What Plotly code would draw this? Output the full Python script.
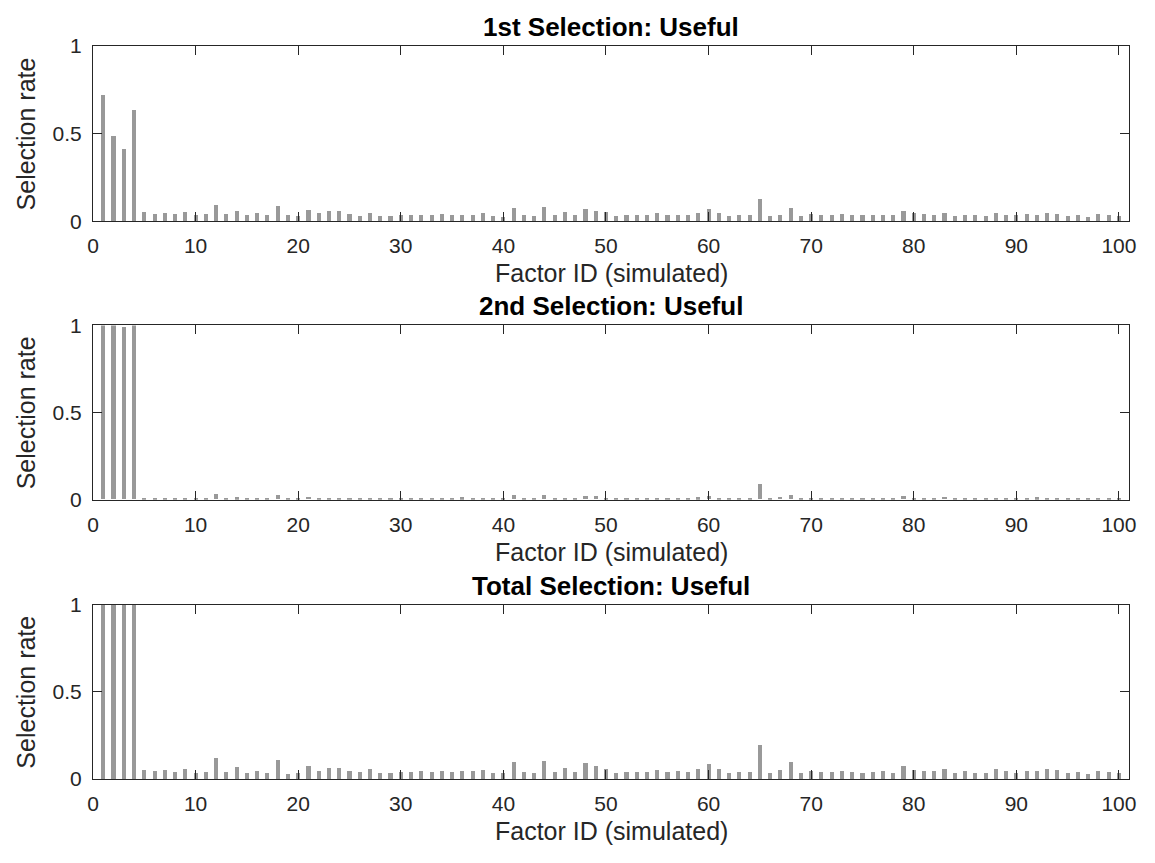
import plotly.graph_objects as go

factor_ids = list(range(1, 101))

first_sel = [
    0.718, 0.489, 0.411, 0.637, 0.050, 0.043, 0.048, 0.039, 0.054, 0.035,
    0.041, 0.094, 0.041, 0.059, 0.035, 0.046, 0.035, 0.089, 0.033, 0.030,
    0.065, 0.046, 0.059, 0.059, 0.042, 0.031, 0.047, 0.027, 0.031, 0.035,
    0.036, 0.038, 0.033, 0.040, 0.033, 0.036, 0.038, 0.044, 0.029, 0.026,
    0.075, 0.035, 0.027, 0.080, 0.035, 0.053, 0.035, 0.071, 0.056, 0.050,
    0.031, 0.038, 0.038, 0.035, 0.047, 0.035, 0.038, 0.033, 0.049, 0.071,
    0.049, 0.029, 0.036, 0.038, 0.129, 0.031, 0.038, 0.078, 0.031, 0.040,
    0.036, 0.033, 0.042, 0.036, 0.033, 0.033, 0.038, 0.033, 0.058, 0.044,
    0.040, 0.038, 0.044, 0.031, 0.038, 0.033, 0.027, 0.049, 0.038, 0.033,
    0.042, 0.036, 0.049, 0.042, 0.027, 0.033, 0.026, 0.040, 0.035, 0.029,
]

second_sel = [
    1.000, 1.000, 0.990, 1.000, 0.005, 0.005, 0.006, 0.003, 0.006, 0.004,
    0.004, 0.030, 0.004, 0.010, 0.003, 0.004, 0.003, 0.025, 0.003, 0.004,
    0.012, 0.004, 0.007, 0.007, 0.006, 0.008, 0.009, 0.008, 0.007, 0.007,
    0.006, 0.008, 0.007, 0.007, 0.009, 0.010, 0.009, 0.007, 0.006, 0.007,
    0.022, 0.006, 0.006, 0.025, 0.007, 0.009, 0.007, 0.020, 0.019, 0.006,
    0.005, 0.004, 0.006, 0.007, 0.004, 0.007, 0.009, 0.007, 0.011, 0.017,
    0.007, 0.006, 0.006, 0.004, 0.090, 0.005, 0.013, 0.022, 0.005, 0.006,
    0.006, 0.007, 0.007, 0.006, 0.005, 0.007, 0.008, 0.005, 0.017, 0.007,
    0.009, 0.008, 0.012, 0.005, 0.008, 0.005, 0.006, 0.009, 0.008, 0.005,
    0.005, 0.010, 0.007, 0.009, 0.006, 0.007, 0.003, 0.006, 0.007, 0.007,
]

total_sel = [
    1.000, 1.000, 1.000, 1.000, 0.054, 0.047, 0.054, 0.039, 0.060, 0.037,
    0.043, 0.121, 0.043, 0.069, 0.035, 0.049, 0.035, 0.112, 0.032, 0.034,
    0.076, 0.049, 0.065, 0.065, 0.049, 0.040, 0.056, 0.035, 0.038, 0.042,
    0.042, 0.046, 0.040, 0.047, 0.042, 0.046, 0.047, 0.051, 0.035, 0.033,
    0.097, 0.040, 0.033, 0.104, 0.042, 0.062, 0.042, 0.091, 0.075, 0.056,
    0.036, 0.042, 0.044, 0.042, 0.051, 0.042, 0.047, 0.040, 0.060, 0.087,
    0.056, 0.035, 0.042, 0.042, 0.199, 0.036, 0.051, 0.100, 0.036, 0.046,
    0.042, 0.040, 0.049, 0.042, 0.037, 0.040, 0.046, 0.038, 0.075, 0.051,
    0.049, 0.046, 0.056, 0.036, 0.046, 0.038, 0.033, 0.058, 0.046, 0.038,
    0.047, 0.046, 0.056, 0.051, 0.033, 0.040, 0.029, 0.046, 0.042, 0.036,
]

titles = ["1st Selection: Useful", "2nd Selection: Useful", "Total Selection: Useful"]
series = [first_sel, second_sel, total_sel]
x_ticks = list(range(0, 101, 10))
y_ticks = [0, 0.5, 1]
y_tick_text = ["0", "0.5", "1"]
x_label = "Factor ID (simulated)"
y_label = "Selection rate"

W, H = 1155, 863
left_px, right_px = 88, 1136
tops_px = [35, 322, 609]
bottoms_px = [215, 501, 788]

FONT = "Liberation Sans, Arial, Helvetica, sans-serif"
AX = "#262626"
fig = go.Figure()

x_dom = [left_px / W, right_px / W]
for i, vals in enumerate(series):
    xa = "x" if i == 0 else f"x{i+1}"
    ya = "y" if i == 0 else f"y{i+1}"
    fig.add_trace(go.Bar(
        x=factor_ids, y=vals, xaxis=xa, yaxis=ya,
        marker=dict(color="#999999", line=dict(width=0)),
        width=0.4, showlegend=False, hoverinfo="skip",
    ))
    y_dom = [1 - bottoms_px[i] / H, 1 - tops_px[i] / H]
    axis_common = dict(
        showline=True, linecolor=AX, linewidth=1, mirror="ticks",
        ticks="inside", ticklen=9, tickcolor=AX, tickwidth=1,
        showgrid=False, zeroline=False,
        tickfont=dict(family=FONT, size=21, color=AX),
    )
    xkey = "xaxis" if i == 0 else f"xaxis{i+1}"
    ykey = "yaxis" if i == 0 else f"yaxis{i+1}"
    fig.update_layout(**{
        xkey: dict(domain=x_dom, range=[0, 101], tickvals=x_ticks,
                   anchor=ya, fixedrange=True, ticklabelstandoff=6, **axis_common),
        ykey: dict(domain=y_dom, range=[0, 1], tickvals=y_ticks, ticktext=y_tick_text,
                   anchor=xa, fixedrange=True, ticklabelstandoff=6, **axis_common),
    })
    # title
    fig.add_annotation(
        text=f"<b>{titles[i]}</b>", xref="paper", yref="paper",
        x=(left_px + right_px) / 2 / W, y=y_dom[1], xanchor="center", yanchor="bottom",
        yshift=2, showarrow=False, font=dict(family=FONT, size=26, color="black"),
    )
    # x label
    fig.add_annotation(
        text=x_label, xref="paper", yref="paper",
        x=(left_px + right_px) / 2 / W, y=y_dom[0], xanchor="center", yanchor="middle",
        yshift=-52, showarrow=False, font=dict(family=FONT, size=25, color=AX),
    )
    # y label
    fig.add_annotation(
        text=y_label, xref="paper", yref="paper", textangle=-90,
        x=20 / W, y=(y_dom[0] + y_dom[1]) / 2, xanchor="center", yanchor="middle",
        showarrow=False, font=dict(family=FONT, size=25, color=AX),
    )

fig.update_layout(
    autosize=True, margin=dict(l=0, r=0, t=0, b=0),
    plot_bgcolor="white", paper_bgcolor="white", bargap=0,
)

post = (
    "document.documentElement.style.margin='0';"
    "document.body.style.margin='0';document.body.style.overflow='hidden';"
    "var gd=document.getElementById('{plot_id}');"
    "gd.style.position='fixed';gd.style.left='0';gd.style.top='0';"
    "gd.style.width='100vw';gd.style.height='100vh';"
    "Plotly.Plots.resize(gd);"
)

fig.write_html(
    "out.html",
    config={"displayModeBar": False, "responsive": True},
    default_width="100vw", default_height="100vh",
    post_script=post,
)
